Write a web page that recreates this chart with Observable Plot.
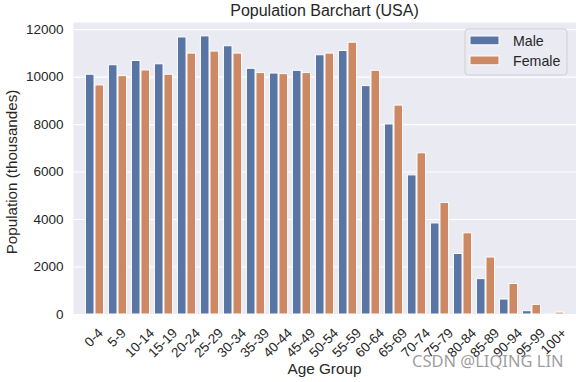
<!DOCTYPE html>
<html>
<head>
<meta charset="utf-8">
<script src="https://cdn.jsdelivr.net/npm/d3@7"></script>
<script src="https://cdn.jsdelivr.net/npm/@observablehq/plot@0.6"></script>
<style>
  html, body { margin: 0; padding: 0; background: white; }
</style>
</head>
<body>
<div id="chart"></div>
<script>
// ---- data ----
const ages = ["0-4","5-9","10-14","15-19","20-24","25-29","30-34","35-39","40-44","45-49",
              "50-54","55-59","60-64","65-69","70-74","75-79","80-84","85-89","90-94","95-99","100+"];
const male   = [10100,10500,10680,10540,11670,11715,11300,10350,10150,10265,
                10920,11100,9620,8005,5860,3835,2550,1490,630,140,15];
const female = [9650,10040,10280,10100,10990,11075,10990,10170,10125,10170,
                10990,11450,10265,8800,6790,4700,3420,2400,1285,405,80];
const series = ["Male", "Female"];
const colors = ["#5975A4", "#CC8963"];
const yTicks = [0, 2000, 4000, 6000, 8000, 10000, 12000];
const titleText = "Population Barchart (USA)";
const xLabel = "Age Group";
const yLabel = "Population (thousandes)";
const watermark = "CSDN @LIQING LIN";

// ---- layout ----
const W = 576, H = 382, mL = 73, mR = 0, mT = 22, mB = 68;
const bw = (W - mL - mR) / ages.length;
const font = "'Liberation Sans', Arial, sans-serif";
const ink = "#262626";

const rows = ages.flatMap((a, i) => [
  {age: a, sex: series[0], v: male[i]},
  {age: a, sex: series[1], v: female[i]}
]);

const ctx = document.createElement("canvas").getContext("2d");
ctx.font = "13.5px 'Liberation Sans'";
const tw = s => ctx.measureText(s).width;

const chart = Plot.plot({
  width: W, height: H,
  marginLeft: mL, marginRight: mR, marginTop: mT, marginBottom: mB,
  style: {background: "white", fontFamily: font, color: ink},
  x: {domain: ages, padding: 0, axis: null},
  y: {domain: [0, 12300], axis: null},
  marks: [
    Plot.frame({fill: "#EAEAF2", stroke: null}),
    Plot.ruleY(yTicks, {stroke: "white", strokeWidth: 1.1}),
    Plot.axisY(yTicks, {tickSize: 0, tickPadding: 10, fontSize: 13.5, label: null, fill: ink,
                        tickFormat: d3.format("d")}),
    Plot.barY(rows.filter(d => d.sex === series[0]), {
      x: "age", y: "v", fill: colors[0], stroke: "white", strokeWidth: 1,
      insetLeft: 0.1 * bw, insetRight: 0.5 * bw
    }),
    Plot.barY(rows.filter(d => d.sex === series[1]), {
      x: "age", y: "v", fill: colors[1], stroke: "white", strokeWidth: 1,
      insetLeft: 0.5 * bw, insetRight: 0.1 * bw
    })
  ]
});

document.getElementById("chart").appendChild(chart);

const svg = d3.select(chart);
const xs = chart.scale("x");
const bottom = H - mB;

// x tick labels, rotated 45deg and centred on each band (matplotlib style)
const tl = svg.append("g").attr("font-family", font).attr("font-size", 13.5)
  .attr("fill", ink).attr("text-anchor", "middle");
ages.forEach(a => {
  const cx = xs.apply(a) + xs.bandwidth / 2 - 1;
  const cy = bottom + 13 + (tw(a) + 9.7) / 2.83;
  tl.append("text").attr("transform", `translate(${cx},${cy})rotate(-45)`)
    .attr("dy", "0.36em").text(a);
});

const cx = mL + (W - mL - mR) / 2;
svg.append("text").attr("x", cx).attr("y", 15.5).attr("text-anchor", "middle")
  .attr("font-family", font).attr("font-size", 16).attr("fill", ink).text(titleText);
svg.append("text").attr("x", cx).attr("y", 374).attr("text-anchor", "middle")
  .attr("font-family", font).attr("font-size", 15.3).attr("fill", ink).text(xLabel);
svg.append("text").attr("transform", `translate(17,${(mT + bottom) / 2 + 4})rotate(-90)`)
  .attr("text-anchor", "middle")
  .attr("font-family", font).attr("font-size", 15.2).attr("fill", ink).text(yLabel);

// legend
const lg = svg.append("g").attr("text-anchor", "start");
lg.append("rect").attr("x", 465).attr("y", 29).attr("width", 102).attr("height", 46)
  .attr("rx", 3).attr("fill", "#EAEAF2").attr("fill-opacity", 0.8)
  .attr("stroke", "#cfcfd6").attr("stroke-width", 1);
series.forEach((s, i) => {
  lg.append("rect").attr("x", 470).attr("y", 36 + i * 20).attr("width", 29).attr("height", 8.8)
    .attr("fill", colors[i]).attr("stroke", "white").attr("stroke-width", 1);
  lg.append("text").attr("x", 513).attr("y", 46 + i * 20)
    .attr("font-family", font).attr("font-size", 14.2).attr("fill", ink).text(s);
});

// watermark
svg.append("text").attr("x", 412).attr("y", 366.5).attr("text-anchor", "start")
  .attr("font-family", "'Noto Sans', sans-serif").attr("font-size", 16.5)
  .attr("fill", "#8c8c8c").attr("fill-opacity", 0.85).text(watermark);
</script>
</body>
</html>
